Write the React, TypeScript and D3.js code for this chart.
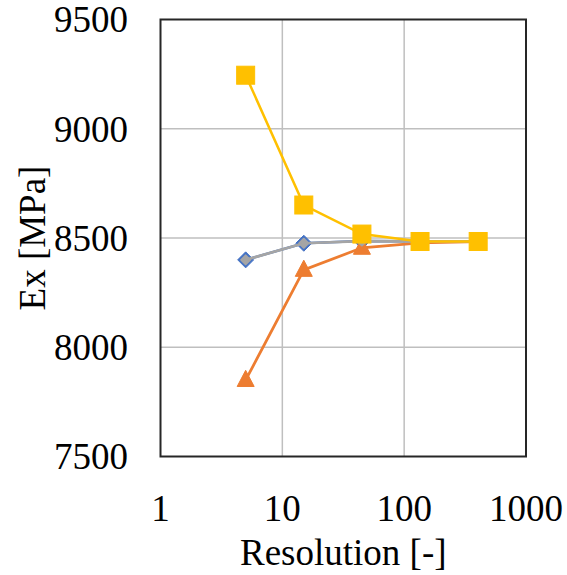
import React from "react";
import * as d3 from "d3";

const resolutions = [5, 15, 45, 135, 405];
const seriesBlue = [8400, 8476, 8486, 8485, 8485];
const seriesOrange = [7850, 8354, 8455, 8478, 8483];
const seriesGray = [8400, 8476, 8486, 8485, 8485];
const seriesYellow = [9245, 8651, 8518, 8484, 8484];
const xTicks = [1, 10, 100, 1000];
const yTicks = [7500, 8000, 8500, 9000, 9500];

const W = 567;
const H = 575;
const L = 160.5, R = 526, T = 19.5, B = 456.5;
const textStyle: React.CSSProperties = {
  fontFamily: '"Liberation Serif", "Times New Roman", Times, "DejaVu Serif", serif',
  fontSize: "37px",
};

export default function App() {
  const x = d3.scaleLog().domain([1, 1000]).range([L, R]);
  const y = d3.scaleLinear().domain([7500, 9500]).range([B, T]);
  const line = d3
    .line<[number, number]>()
    .x((d) => x(d[0]))
    .y((d) => y(d[1]));
  const pts = (vals: number[]) => resolutions.map((r, i) => [r, vals[i]] as [number, number]);

  const diamond = (cx: number, cy: number, r: number) =>
    `M${cx},${cy - r}L${cx + r},${cy}L${cx},${cy + r}L${cx - r},${cy}Z`;
  const tri = (cx: number, cy: number, s: number) => {
    const h = s * 0.95;
    return `M${cx},${cy - h * 0.6}L${cx + s / 2},${cy + h * 0.4}L${cx - s / 2},${cy + h * 0.4}Z`;
  };

  return (
    <svg
      width={W}
      height={H}
      style={{ position: "absolute", left: 0, top: 0, background: "#fff" }}
    >
      <rect x={0} y={0} width={W} height={H} fill="#fff" />
      {yTicks.slice(1, -1).map((t) => (
        <line key={"gy" + t} x1={L} x2={R} y1={y(t)} y2={y(t)} stroke="#BFBFBF" strokeWidth={1.5} />
      ))}
      {xTicks.slice(1, -1).map((t) => (
        <line key={"gx" + t} x1={x(t)} x2={x(t)} y1={T} y2={B} stroke="#BFBFBF" strokeWidth={1.5} />
      ))}
      <rect x={L} y={T} width={R - L} height={B - T} fill="none" stroke="#262626" strokeWidth={2} />

      {yTicks.map((t) => (
        <text key={"yt" + t} x={128} y={y(t)} dy="0.35em" textAnchor="end" style={textStyle} fill="#000">
          {t}
        </text>
      ))}
      {xTicks.map((t) => (
        <text key={"xt" + t} x={x(t)} y={521} textAnchor="middle" style={textStyle} fill="#000">
          {t}
        </text>
      ))}
      <text x={(L + R) / 2} y={565} textAnchor="middle" style={textStyle} fill="#000">
        Resolution [-]
      </text>
      <text
        transform={`translate(45,${(T + B) / 2}) rotate(-90)`}
        textAnchor="middle"
        style={textStyle}
        fill="#000"
      >
        Ex [MPa]
      </text>

      <path d={line(pts(seriesBlue)) || ""} fill="none" stroke="#4472C4" strokeWidth={2.5} />
      {pts(seriesBlue).map((d, i) => (
        <path key={"b" + i} d={diamond(x(d[0]), y(d[1]), 8)} fill="#4472C4" stroke="#4472C4" strokeWidth={1} />
      ))}
      <path d={line(pts(seriesOrange)) || ""} fill="none" stroke="#ED7D31" strokeWidth={2.75} />
      {pts(seriesOrange).map((d, i) => (
        <path key={"o" + i} d={tri(x(d[0]), y(d[1]), 17)} fill="#ED7D31" stroke="#ED7D31" strokeWidth={1} />
      ))}
      <path d={line(pts(seriesGray)) || ""} fill="none" stroke="#A5A5A5" strokeWidth={2.75} />
      {pts(seriesGray).map((d, i) => (
        <path key={"g" + i} d={diamond(x(d[0]), y(d[1]), 4.5)} fill="#A5A5A5" stroke="#A5A5A5" strokeWidth={2} strokeLinejoin="round" />
      ))}
      <path d={line(pts(seriesYellow)) || ""} fill="none" stroke="#FFC000" strokeWidth={2.5} />
      {pts(seriesYellow).map((d, i) => (
        <rect key={"y" + i} x={x(d[0]) - 9} y={y(d[1]) - 9} width={18} height={18} fill="#FFC000" stroke="#FFC000" strokeWidth={1} />
      ))}
    </svg>
  );
}
